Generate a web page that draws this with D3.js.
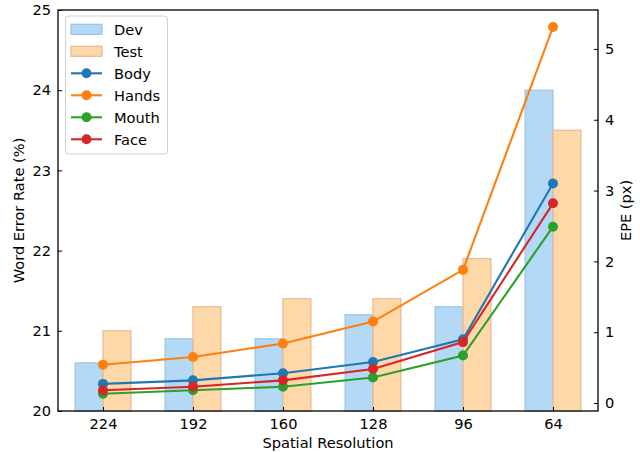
<!DOCTYPE html>
<html><head><meta charset="utf-8">
<script src="https://cdn.jsdelivr.net/npm/d3@7"></script>
<style>body{margin:0;background:#fff}svg{display:block}text{font-family:"DejaVu Sans",sans-serif;fill:#000}</style>
</head><body><svg id="c" width="640" height="452"></svg>
<script>
const categories = ["224","192","160","128","96","64"];
const devWER = [20.6, 20.9, 20.9, 21.2, 21.3, 24.0];
const testWER = [21.0, 21.3, 21.4, 21.4, 21.9, 23.5];
const bodyEPE = [0.27, 0.32, 0.42, 0.58, 0.90, 3.10];
const handsEPE = [0.54, 0.65, 0.84, 1.15, 1.88, 5.31];
const mouthEPE = [0.13, 0.18, 0.23, 0.36, 0.67, 2.49];
const faceEPE = [0.18, 0.23, 0.32, 0.48, 0.86, 2.82];
const leftTicks = [20, 21, 22, 23, 24, 25];
const rightTicks = [0, 1, 2, 3, 4, 5];

const FS = 14.6;
const svg = d3.select("#c");
const L = 58, R = 598, T = 10, B = 411;
const x = d3.scaleLinear().domain([-0.5, 5.5]).range([L, R]);
const yL = d3.scaleLinear().domain([20, 25]).range([B, T]);
const yR = d3.scaleLinear().domain([-0.113, 5.55]).range([B, T]);
const bw = 0.31;

const bars = [
  {name:"Dev", vals:devWER, off:-bw/2, fill:"#b3d9f6", stroke:"#9dc3e2"},
  {name:"Test", vals:testWER, off:bw/2, fill:"#fed8a9", stroke:"#eab893"}
];
bars.forEach(s => {
  svg.append("g").selectAll("rect").data(s.vals).join("rect")
    .attr("x", (d,i) => x(i + s.off - bw/2))
    .attr("width", x(bw) - x(0))
    .attr("y", d => yL(d))
    .attr("height", d => yL(20) - yL(d))
    .attr("fill", s.fill).attr("stroke", s.stroke).attr("stroke-width", 1.2);
});

const lines = [
  {name:"Body", vals:bodyEPE, c:"#1f77b4"},
  {name:"Hands", vals:handsEPE, c:"#ff7f0e"},
  {name:"Mouth", vals:mouthEPE, c:"#2ca02c"},
  {name:"Face", vals:faceEPE, c:"#d62728"}
];
const lineGen = d3.line().x((d,i) => x(i)).y(d => yR(d));
lines.forEach(s => {
  const g = svg.append("g");
  g.append("path").attr("d", lineGen(s.vals)).attr("fill","none")
    .attr("stroke", s.c).attr("stroke-width", 2.1);
  g.selectAll("circle").data(s.vals).join("circle")
    .attr("cx", (d,i) => x(i)).attr("cy", d => yR(d)).attr("r", 5).attr("fill", s.c);
});

// axes
const axL = d3.axisLeft(yL).tickValues(leftTicks).tickSize(-4).tickPadding(7).tickFormat(d3.format("d"));
const axR = d3.axisRight(yR).tickValues(rightTicks).tickSize(-4).tickPadding(7).tickFormat(d3.format("d"));
const axB = d3.axisBottom(x).tickValues(d3.range(categories.length)).tickSize(-4).tickPadding(8).tickFormat(i => categories[i]);
function style(g){
  g.select(".domain").remove();
  g.selectAll("line").attr("stroke","#000").attr("stroke-width",1);
  g.selectAll("text").attr("font-size",FS).attr("fill","#000").attr("font-family","DejaVu Sans, sans-serif");
}
svg.append("g").attr("transform",`translate(${L},0)`).call(axL).call(style);
svg.append("g").attr("transform",`translate(${R},0)`).call(axR).call(style);
svg.append("g").attr("transform",`translate(0,${B})`).call(axB).call(style);
svg.append("rect").attr("x",L).attr("y",T).attr("width",R-L).attr("height",B-T)
  .attr("fill","none").attr("stroke","#000").attr("stroke-width",1.3);

svg.append("text").attr("x",(L+R)/2 ).attr("y",448).attr("text-anchor","middle").attr("font-size",FS).text("Spatial Resolution");
svg.append("text").attr("transform",`translate(24,${(T+B)/2}) rotate(-90)`).attr("text-anchor","middle").attr("font-size",FS).text("Word Error Rate (%)");
svg.append("text").attr("transform",`translate(631,${(T+B)/2}) rotate(-90)`).attr("text-anchor","middle").attr("font-size",FS).text("EPE (px)");

// legend
const lg = svg.append("g");
lg.append("rect").attr("x",65.5).attr("y",16).attr("width",102).attr("height",138).attr("rx",3)
  .attr("fill","#fff").attr("fill-opacity",0.8).attr("stroke","#d0d0d0");
const items = bars.map(b => ({type:"bar", ...b})).concat(lines.map(l => ({type:"line", ...l})));
items.forEach((it, k) => {
  const cy = 29.3 + k*22;
  if (it.type === "bar") {
    lg.append("rect").attr("x",71).attr("y",cy-5).attr("width",31).attr("height",10)
      .attr("fill",it.fill).attr("stroke",it.stroke).attr("stroke-width",1.2);
  } else {
    lg.append("line").attr("x1",71).attr("x2",102).attr("y1",cy).attr("y2",cy).attr("stroke",it.c).attr("stroke-width",2.1);
    lg.append("circle").attr("cx",86.5).attr("cy",cy).attr("r",5).attr("fill",it.c);
  }
  lg.append("text").attr("x",114).attr("y",cy+5.3).attr("font-size",FS).text(it.name);
});
</script></body></html>
